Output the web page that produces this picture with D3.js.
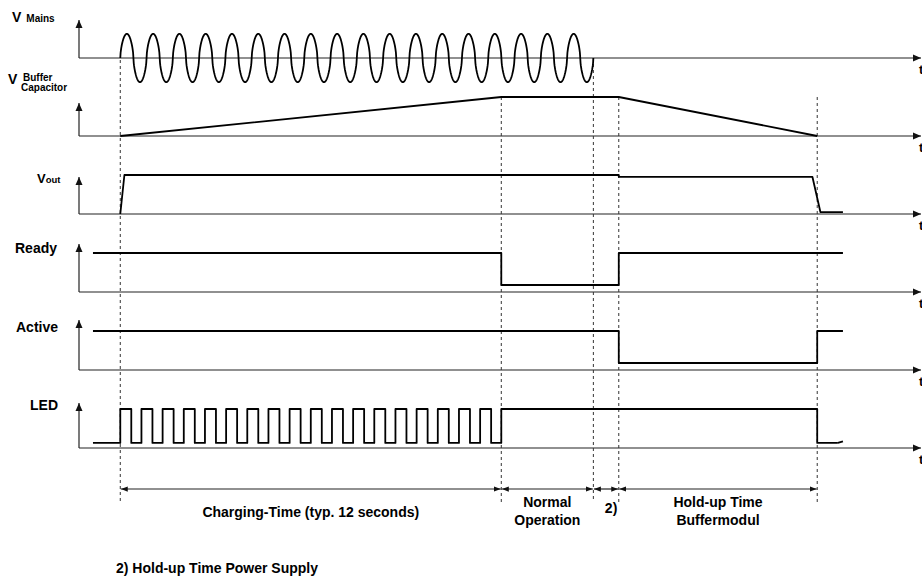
<!DOCTYPE html>
<html>
<head>
<meta charset="utf-8">
<script src="https://cdn.jsdelivr.net/npm/d3@7"></script>
<style>
  body { margin: 0; background: #fff; }
  svg { display: block; font-family: 'Liberation Sans', Arial, sans-serif; font-weight: bold; }
</style>
</head>
<body>
<script>
// signal rows, top to bottom
const rows = ['mains', 'buffer', 'vout', 'ready', 'active', 'led']

// event times in seconds (power on, buffer full, mains off, PSU hold-up over, buffer empty)
const events = [0, 12, 14.9, 15.7, 21.95]

// mains: number of full cycles between power on and mains off
const mainsCycles = 18
// buffer capacitor voltage [t, level]
const bufferPoints = [[0, 0], [12, 1], [15.7, 1], [21.95, 0]]
// output voltage [t, level]
const voutPoints = [[0, 0], [0.13, 1], [15.7, 1], [15.7, 0.95], [21.8, 0.95], [22.05, 0.05], [22.76, 0.05]]
// ready / active contacts, step after [t, level]
const readySteps = [[-0.86, 1], [12, 0.18], [15.7, 1], [22.76, 1]]
const activeSteps = [[-0.86, 1], [15.7, 0.18], [21.95, 1], [22.76, 1]]
// LED: blinks while charging, then on, then off
const ledPulses = 18
const ledLow = 0.13
const ledTail = [[12, 1], [21.95, ledLow], [22.6, ledLow], [22.76, 0.17]]

// phases along the bottom
const phaseBounds = [[0, 12], [12, 14.9], [14.9, 15.7], [15.7, 21.95]]
const phaseLabels = [['Charging-Time (typ. 12 seconds)'], ['Normal', 'Operation'], ['2)'], ['Hold-up Time', 'Buffermodul']]
const footnote = '2) Hold-up Time Power Supply'

const width = 922
const height = 577

const svg = d3.select('body').append('svg')
  .attr('width', width)
  .attr('height', height)

const defs = svg.append('defs')
defs.append('marker')
  .attr('id', 'arrow')
  .attr('viewBox', '0 -4 8 8')
  .attr('refX', 8)
  .attr('refY', 0)
  .attr('markerWidth', 8)
  .attr('markerHeight', 8)
  .attr('markerUnits', 'userSpaceOnUse')
  .attr('orient', 'auto-start-reverse')
  .append('path')
  .attr('d', 'M0,-3.5L8,0L0,3.5Z')
  .attr('fill', '#111')

defs.append('marker')
  .attr('id', 'dim')
  .attr('viewBox', '0 -4 8 8')
  .attr('refX', 8)
  .attr('refY', 0)
  .attr('markerWidth', 7)
  .attr('markerHeight', 7)
  .attr('markerUnits', 'userSpaceOnUse')
  .attr('orient', 'auto-start-reverse')
  .append('path')
  .attr('d', 'M0,-3L8,0L0,3Z')
  .attr('fill', '#111')

// time scale and row baselines
const x = d3.scaleLinear().domain([-1.3, 25.25]).range([79, 922])
const row = d3.scalePoint().domain(rows).range([58, 448])
const level = d3.scaleLinear().domain([0, 1]).range([0, -39])
const arrowHeight = { mains: 38, buffer: 33, vout: 37, ready: 48, active: 50, led: 45 }

const yOf = (name, v) => row(name) + level(v)

// axes
const axes = svg.append('g').attr('class', 'axes')
rows.forEach(name => {
  const base = row(name)
  axes.append('line')
    .attr('x1', x.range()[0]).attr('x2', x.range()[1] - 1)
    .attr('y1', base).attr('y2', base)
    .attr('stroke', '#222').attr('stroke-width', 1.2)
    .attr('marker-end', 'url(#arrow)')
  axes.append('line')
    .attr('x1', x.range()[0]).attr('x2', x.range()[0])
    .attr('y1', base).attr('y2', base - arrowHeight[name])
    .attr('stroke', '#222').attr('stroke-width', 1.2)
    .attr('marker-end', 'url(#arrow)')
  axes.append('text')
    .attr('x', 919).attr('y', base + 16)
    .attr('font-size', 13)
    .text('t')
})

// dashed event lines
const dashTop = [row('mains') + 2, yOf('buffer', 1), row('mains'), yOf('buffer', 1), yOf('buffer', 1)]
svg.append('g').selectAll('line')
  .data(events)
  .join('line')
  .attr('x1', d => x(d)).attr('x2', d => x(d))
  .attr('y1', (d, i) => dashTop[i])
  .attr('y2', 502)
  .attr('stroke', '#333')
  .attr('stroke-width', 1)
  .attr('stroke-dasharray', '3,3')

// signals
const signals = svg.append('g')
  .attr('fill', 'none')
  .attr('stroke', '#000')
  .attr('stroke-width', 1.8)
  .attr('stroke-linejoin', 'round')

const lineFor = (name, curve) => d3.line()
  .x(d => x(d[0]))
  .y(d => yOf(name, d[1]))
  .curve(curve || d3.curveLinear)

// mains sine wave, slightly squared like the scanned drawing
const tOff = events[2]
const mainsPoints = d3.range(0, mainsCycles * 80 + 1).map(i => {
  const t = (i / (mainsCycles * 80)) * tOff
  const s = Math.sin((2 * Math.PI * mainsCycles * t) / tOff)
  return [t, 0.62 * Math.sign(s) * Math.pow(Math.abs(s), 0.6)]
})
signals.append('path').attr('d', lineFor('mains')(mainsPoints))

signals.append('path').attr('d', lineFor('buffer')(bufferPoints))
signals.append('path').attr('d', lineFor('vout')(voutPoints))
signals.append('path').attr('d', lineFor('ready', d3.curveStepAfter)(readySteps))
signals.append('path').attr('d', lineFor('active', d3.curveStepAfter)(activeSteps))

// LED steps: blinking during charging
const blink = events[1] / ledPulses
const ledSteps = [[-0.86, ledLow]]
d3.range(ledPulses).forEach(k => {
  ledSteps.push([k * blink, 1])
  ledSteps.push([k * blink + blink * 0.52, ledLow])
})
const ledPath = lineFor('led', d3.curveStepAfter)(ledSteps.concat([[ledTail[0][0], 1], [ledTail[1][0], ledLow], [ledTail[2][0], ledLow]]))
signals.append('path').attr('d', ledPath)
signals.append('path').attr('d', lineFor('led')(ledTail.slice(2)))

// row labels
const labels = svg.append('g').attr('fill', '#000')
const vMains = labels.append('text').attr('x', 12).attr('y', 22)
vMains.append('tspan').attr('font-size', 14).text('V')
vMains.append('tspan').attr('font-size', 10).attr('dx', 5).text('Mains')

labels.append('text').attr('x', 8).attr('y', 84).attr('font-size', 14).text('V')
labels.append('text').attr('x', 23).attr('y', 81).attr('font-size', 10).text('Buffer')
labels.append('text').attr('x', 21).attr('y', 91).attr('font-size', 10).text('Capacitor')

const vOut = labels.append('text').attr('x', 37).attr('y', 183)
vOut.append('tspan').attr('font-size', 13).text('V')
vOut.append('tspan').attr('font-size', 9.5).text('out')

labels.append('text').attr('x', 15).attr('y', 253).attr('font-size', 14).text('Ready')
labels.append('text').attr('x', 16).attr('y', 332).attr('font-size', 14).text('Active')
labels.append('text').attr('x', 30).attr('y', 410).attr('font-size', 14).text('LED')

// phase dimension lines
const dimY = 489
const phases = svg.append('g')
phases.selectAll('line')
  .data(phaseBounds)
  .join('line')
  .attr('x1', d => x(d[0]) + 0.5)
  .attr('x2', d => x(d[1]) - 0.5)
  .attr('y1', dimY).attr('y2', dimY)
  .attr('stroke', '#222')
  .attr('stroke-width', 1.2)
  .attr('marker-start', 'url(#dim)')
  .attr('marker-end', 'url(#dim)')

phaseBounds.forEach((d, i) => {
  const lines = phaseLabels[i]
  const cx = x((d[0] + d[1]) / 2) + (i === 2 ? 5 : 0)
  const startY = lines.length === 1 ? (i === 2 ? 513 : 517) : 507
  phases.append('text')
    .attr('text-anchor', 'middle')
    .attr('font-size', 14)
    .selectAll('tspan')
    .data(lines)
    .join('tspan')
    .attr('x', cx)
    .attr('y', (l, j) => startY + j * 18)
    .text(l => l)
})

svg.append('text')
  .attr('x', 116).attr('y', 573)
  .attr('font-size', 14)
  .text(footnote)
</script>
</body>
</html>
